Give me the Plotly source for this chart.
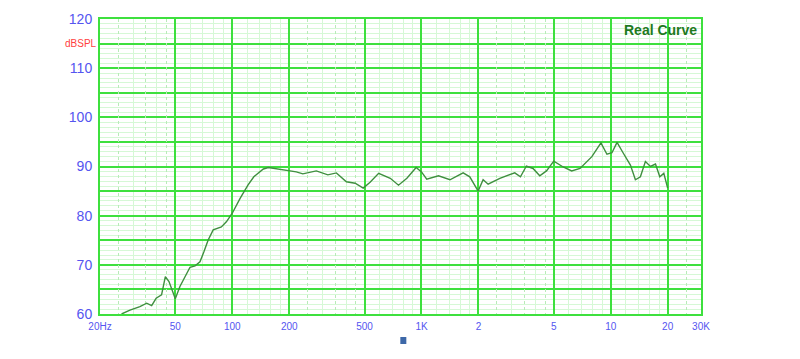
import math
import plotly.graph_objects as go

# ---- data ----
freq_hz = [26, 28.8, 32.5, 35.3, 37.5, 39.6, 42.3, 44.3, 46.3, 50, 52.9, 56.2, 59.8,
           63.6, 67.5, 70.9, 74.5, 79.3, 87.6, 93.3, 100, 110, 121, 130, 146, 155,
           171.5, 197, 218, 236, 278, 320, 355, 401, 446, 492, 535, 594, 684, 756,
           837, 937, 1000, 1066, 1230, 1414, 1660, 1800, 1993, 2117, 2250, 2594,
           3111, 3335, 3583, 3886, 4217, 4577, 5000, 5610, 6217, 6883, 7950, 8880,
           9550, 10150, 10800, 11620, 12710, 13500, 14350, 15250, 16220, 17240,
           18170, 19080, 20000]
spl_db = [60.0, 60.8, 61.5, 62.2, 61.7, 63.2, 63.9, 67.6, 66.6, 63.1, 65.6, 67.6, 69.5,
          69.8, 70.6, 72.7, 75.0, 77.1, 77.7, 78.8, 80.5, 83.5, 86.2, 87.9, 89.5, 89.8,
          89.5, 89.1, 88.9, 88.5, 89.1, 88.3, 88.7, 86.9, 86.6, 85.6, 86.8, 88.6, 87.6, 86.2,
          87.6, 89.8, 88.9, 87.4, 88.1, 87.3, 88.7, 87.9, 85.0, 87.3, 86.4, 87.6,
          88.7, 87.9, 90.1, 89.6, 88.1, 89.1, 91.1, 89.9, 89.1, 89.6, 92.0, 94.8,
          92.5, 92.8, 94.9, 92.8, 90.3, 87.3, 87.9, 91.0, 90.0, 90.5,
          87.9, 88.6, 85.6]

x_major = [20, 50, 100, 200, 500, 1000, 2000, 5000, 10000, 20000, 30000]
x_labels = ["20Hz", "50", "100", "200", "500", "1K", "2", "5", "10", "20", "30K"]
x_minor = [30, 40, 60, 70, 80, 90, 120, 140, 160, 180, 300, 400, 600, 700, 800, 900,
           1200, 1400, 1600, 1800, 3000, 4000, 6000, 7000, 8000, 9000,
           12000, 14000, 16000, 18000]
x_dotted = [25, 35, 45, 250, 350, 450, 2500, 3500, 4500, 25000]

y_major = list(range(60, 121, 5))
y_labels = [str(v) if v % 10 == 0 else "" for v in y_major]
y_minor = [v for v in range(60, 121) if v % 5 != 0]

x_range = [math.log10(20), math.log10(30000)]
y_range = [60, 120]

MAJOR = "#3ee03e"
MINOR = "#d6f8d6"
DOTC = "#b8ebb8"
TICK = "#5555f0"

fig = go.Figure()
fig.add_trace(go.Scatter(x=freq_hz, y=spl_db, mode="lines",
                         line=dict(color="#3f8f3f", width=1.4),
                         hoverinfo="skip", showlegend=False))
# dummy trace for the dotted-grid overlay axis
fig.add_trace(go.Scatter(x=[20], y=[60], xaxis="x2", mode="markers",
                         marker=dict(opacity=0), showlegend=False, hoverinfo="skip"))

fig.update_layout(
    width=800, height=359,
    margin=dict(l=100, r=99, t=19, b=45),
    paper_bgcolor="white", plot_bgcolor="white",
    font=dict(family="Liberation Sans, Arial, sans-serif"),
    xaxis=dict(type="log", range=x_range, tickmode="array",
               tickvals=x_major, ticktext=x_labels,
               tickfont=dict(size=10, color=TICK),
               showgrid=True, gridcolor=MAJOR, gridwidth=1.6,
               minor=dict(tickmode="array", tickvals=x_minor, showgrid=True,
                          gridcolor=MINOR, gridwidth=1, ticks=""),
               showline=True, linecolor=MAJOR, linewidth=2, mirror=True,
               ticks="", zeroline=False, ticklabelstandoff=2),
    xaxis2=dict(type="log", range=x_range, overlaying="x", tickmode="array",
                tickvals=x_dotted, showticklabels=False, showgrid=True,
                gridcolor=DOTC, gridwidth=1, griddash="dot", ticks="",
                showline=False, zeroline=False),
    yaxis=dict(range=y_range, tickmode="array", tickvals=y_major, ticktext=y_labels,
               tickfont=dict(size=14, color=TICK),
               showgrid=True, gridcolor=MAJOR, gridwidth=1.6,
               minor=dict(tickmode="array", tickvals=y_minor, showgrid=True,
                          gridcolor=MINOR, gridwidth=1, ticks=""),
               showline=True, linecolor=MAJOR, linewidth=2, mirror=True,
               ticks="", zeroline=False, ticklabelstandoff=3),
    annotations=[
        dict(text="dBSPL", xref="paper", yref="y", x=0, y=115, xanchor="right",
             yanchor="middle", xshift=-1, showarrow=False,
             font=dict(size=10, color="#ff4040")),
        dict(text="<b>Real Curve</b>", xref="paper", yref="paper", x=1, y=1,
             xanchor="right", yanchor="top", xshift=-2, yshift=-1, showarrow=False,
             font=dict(size=14, color="#1f7a1f")),
    ],
    shapes=[
        dict(type="rect", xref="paper", yref="paper", x0=0.4997, x1=0.5097,
             y0=-0.1017, y1=-0.078, fillcolor="#3d68a8", line=dict(width=0)),
    ],
)

fig.write_html("out.html")
